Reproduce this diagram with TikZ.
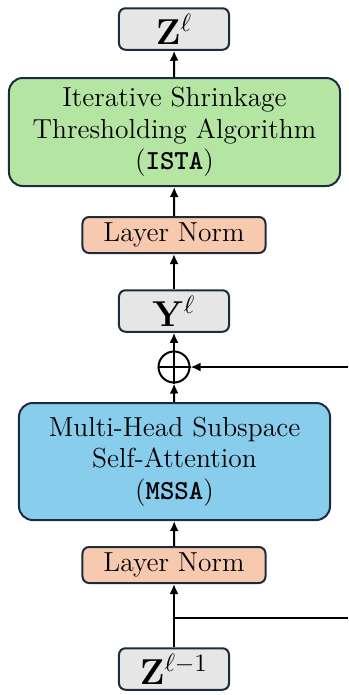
\documentclass[tikz,border=0pt]{standalone}
\usetikzlibrary{arrows.meta}

\definecolor{istagreen}{RGB}{180,229,162}
\definecolor{mssablue}{RGB}{136,205,235}
\definecolor{normsalmon}{RGB}{247,202,176}
\definecolor{tokengray}{RGB}{230,230,230}
\definecolor{edgenavy}{RGB}{28,44,60}

\begin{document}
\begin{tikzpicture}[
        x=0.4pt, y=-0.4pt,
        box/.style={draw=edgenavy, line width=0.8pt, align=center, inner sep=0pt},
        tokenbox/.style={box, fill=tokengray, rounded corners=2.6pt,
            minimum width=44pt, minimum height=16.6pt, font=\fontsize{14.4}{16}\selectfont},
        normbox/.style={box, fill=normsalmon, rounded corners=2.6pt,
            minimum width=73.2pt, minimum height=14.4pt, font=\fontsize{11}{13}\selectfont},
        blockbox/.style={box, rounded corners=5.5pt, font=\fontsize{11}{12.6}\selectfont},
        flow/.style={line width=0.8pt, -{Latex[length=4pt,width=3.6pt]}}
    ]

        \useasboundingbox (0, 0) rectangle (348, 695);

        \node [tokenbox] (zout) at (174, 29)  {$\mathbf{Z}^{\ell}$};
        \node [blockbox, fill=istagreen, minimum width=132.4pt, minimum height=43.2pt]
            (ista) at (174.5, 132) {Iterative Shrinkage\\Thresholding Algorithm\\(\texttt{\textbf{ISTA}})};
        \node [normbox] (norm2) at (174, 235) {Layer Norm};
        \node [tokenbox] (yl) at (174, 311) {$\mathbf{Y}^{\ell}$};
        \node [draw, circle, line width=0.8pt, minimum size=12.4pt, inner sep=0pt] (plus) at (174, 367) {};
        \node [blockbox, fill=mssablue, minimum width=124.4pt, minimum height=46.8pt]
            (mssa) at (174.5, 461.5) {Multi-Head Subspace\\Self-Attention\\(\texttt{\textbf{MSSA}})};
        \node [normbox] (norm1) at (174, 565) {Layer Norm};
        \node [tokenbox] (zin) at (174, 669) {$\mathbf{Z}^{\ell-1}$};

        \draw [line width=0.8pt] (plus.north) -- (plus.south) (plus.west) -- (plus.east);

        \coordinate (branch) at (174, 618);
        \coordinate (skipout) at (348, 618);
        \coordinate (skipin) at (348, 367);

        \draw [flow] (zin) -- (norm1);
        \draw [line width=0.8pt] (branch) -- (skipout);
        \draw [flow] (norm1) -- (mssa);
        \draw [flow] (mssa) -- (plus);
        \draw [flow] (skipin) -- (plus);
        \draw [flow] (plus) -- (yl);
        \draw [flow] (yl) -- (norm2);
        \draw [flow] (norm2) -- (ista);
        \draw [flow] (ista) -- (zout);

    \end{tikzpicture}
\end{document}
